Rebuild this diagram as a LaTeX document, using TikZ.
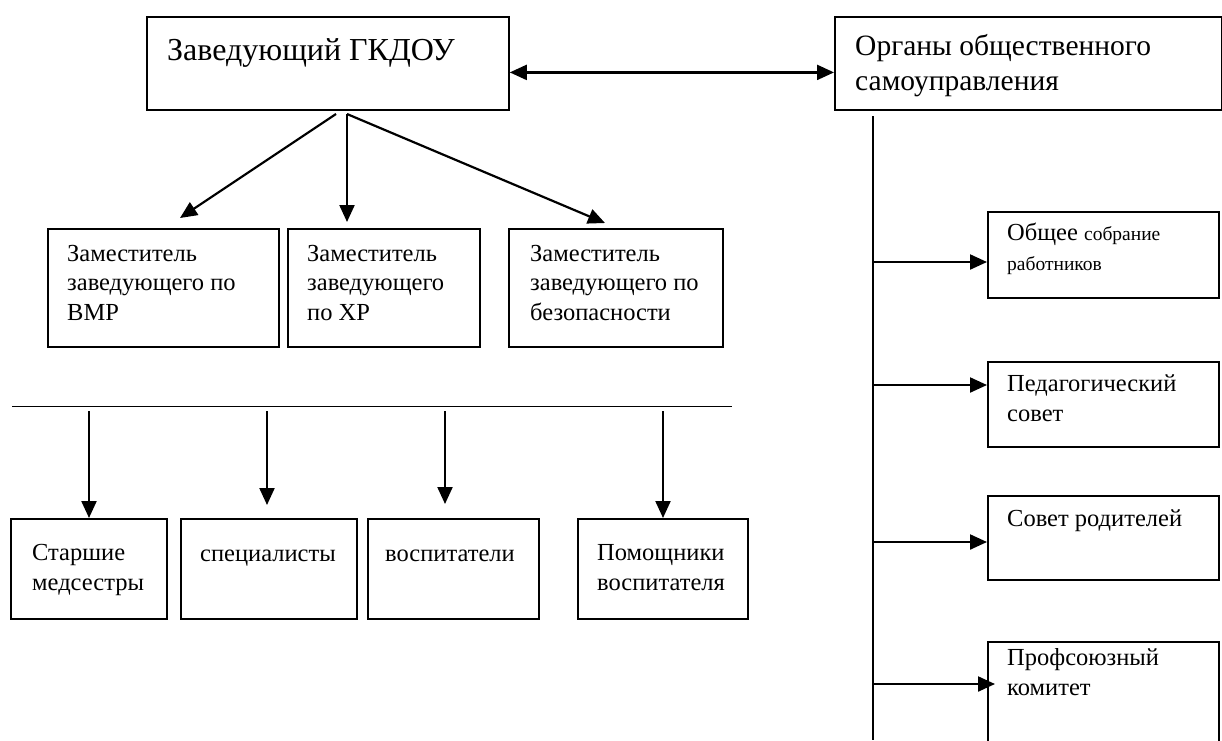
\documentclass[tikz,border=0pt]{standalone}
\usepackage{fontspec}
\setmainfont{Liberation Serif}
\usetikzlibrary{arrows.meta}

\tikzset{
  box/.style={draw, line width=1.8pt, anchor=north west, inner sep=0pt},
  txt/.style={anchor=base west, inner sep=0pt, align=left},
  bigtxt/.style={txt, font=\fontsize{32}{35}\selectfont},
  smalltxt/.style={txt, font=\fontsize{24.5}{29.5}\selectfont},
  arr/.style={line width=2.2pt, -{Triangle[length=17pt,width=15pt]}},
  twoarr/.style={line width=2.2pt, {Triangle[length=17pt,width=15pt]}-{Triangle[length=17pt,width=15pt]}},
}
\newcommand{\tinytxt}{\fontsize{19.5}{28}\selectfont}

\begin{document}
\begin{tikzpicture}[x=1pt,y=-1pt]
    \useasboundingbox (0,0) rectangle (1222,740);

    % top boxes (text nodes sit on the baseline of their last line)
    \node[box, minimum width=362pt, minimum height=93pt] (zav) at (146,16) {};
    \node[bigtxt] (zavt) at (167,60) {Заведующий ГКДОУ};
    \node[box, minimum width=387pt, minimum height=93pt] (org) at (834,16) {};
    \node[bigtxt, font=\fontsize{29.5}{35}\selectfont] (orgt) at (855,90) {Органы общественного\\самоуправления};
    \draw[twoarr] ([yshift=-9pt]zav.east) -- ([yshift=-9pt]org.west);

    % deputies
    \node[box, minimum width=231pt, minimum height=118pt] (zamvmr) at (47,228) {};
    \node[smalltxt] (zamvmrt) at (67,320) {Заместитель\\заведующего по\\ВМР};
    \node[box, minimum width=192pt, minimum height=118pt] (zamxr) at (287,228) {};
    \node[smalltxt] (zamxrt) at (307,320) {Заместитель\\заведующего\\по ХР};
    \node[box, minimum width=214pt, minimum height=118pt] (zambez) at (508,228) {};
    \node[smalltxt] (zambezt) at (530,320) {Заместитель\\заведующего по\\безопасности};

    \coordinate (fl) at (336,114);
    \coordinate (fm) at (347,114);
    \coordinate (el) at (180,218);
    \coordinate (em) at (347,222);
    \coordinate (er) at (605,223);
    \draw[arr] (fl) -- (el);
    \draw[arr] (fm) -- (em);
    \draw[arr] (fm) -- (er);

    % staff
    \draw[line width=1pt] (12,406) -- (732,406);
    \node[box, minimum width=156pt, minimum height=100pt] (starsh) at (10,518) {};
    \node[smalltxt] (starsht) at (32,590) {Старшие\\медсестры};
    \node[box, minimum width=176pt, minimum height=100pt] (spec) at (180,518) {};
    \node[smalltxt] (spect) at (200,561) {специалисты};
    \node[box, minimum width=171pt, minimum height=100pt] (vosp) at (367,518) {};
    \node[smalltxt] (vospt) at (385,561) {воспитатели};
    \node[box, minimum width=170pt, minimum height=100pt] (pom) at (577,518) {};
    \node[smalltxt] (pomt) at (597,590) {Помощники\\воспитателя};

    \coordinate (d1) at (89,411);
    \coordinate (d2) at (267,411);
    \coordinate (d3) at (445,411);
    \coordinate (d4) at (663,411);
    \coordinate (e2) at (267,505);
    \coordinate (e3) at (445,504);
    \draw[arr] (d1) -- (d1 |- starsh.north);
    \draw[arr] (d2) -- (e2);
    \draw[arr] (d3) -- (e3);
    \draw[arr] (d4) -- (d4 |- pom.north);

    % self-government bodies
    \coordinate (bustop) at (873,116);
    \coordinate (busbot) at (873,740);
    \draw[line width=1.8pt] (bustop) -- (busbot);

    \node[box, minimum width=231pt, minimum height=86pt] (sobr) at (987,211) {};
    \node[smalltxt] (sobrt) at (1007,270) {Общее {\tinytxt собрание}\\{\tinytxt работников}};
    \node[box, minimum width=231pt, minimum height=85pt] (ped) at (987,361) {};
    \node[smalltxt] (pedt) at (1007,421) {Педагогический\\совет};
    \node[box, minimum width=231pt, minimum height=84pt] (rod) at (987,495) {};
    \node[smalltxt] (rodt) at (1007,526) {Совет родителей};
    \node[box, minimum width=231pt, minimum height=120pt] (prof) at (987,641) {};
    \node[smalltxt] (proft) at (1007,695) {Профсоюзный\\комитет};

    \coordinate (s1) at (873,262);
    \coordinate (s2) at (873,385);
    \coordinate (s3) at (873,542);
    \coordinate (s4) at (873,684);
    \draw[arr] (s1) -- (s1 -| sobr.west);
    \draw[arr] (s2) -- (s2 -| ped.west);
    \draw[arr] (s3) -- (s3 -| rod.west);
    \draw[arr] (s4) -- ([xshift=8pt]s4 -| prof.west);
\end{tikzpicture}
\end{document}
